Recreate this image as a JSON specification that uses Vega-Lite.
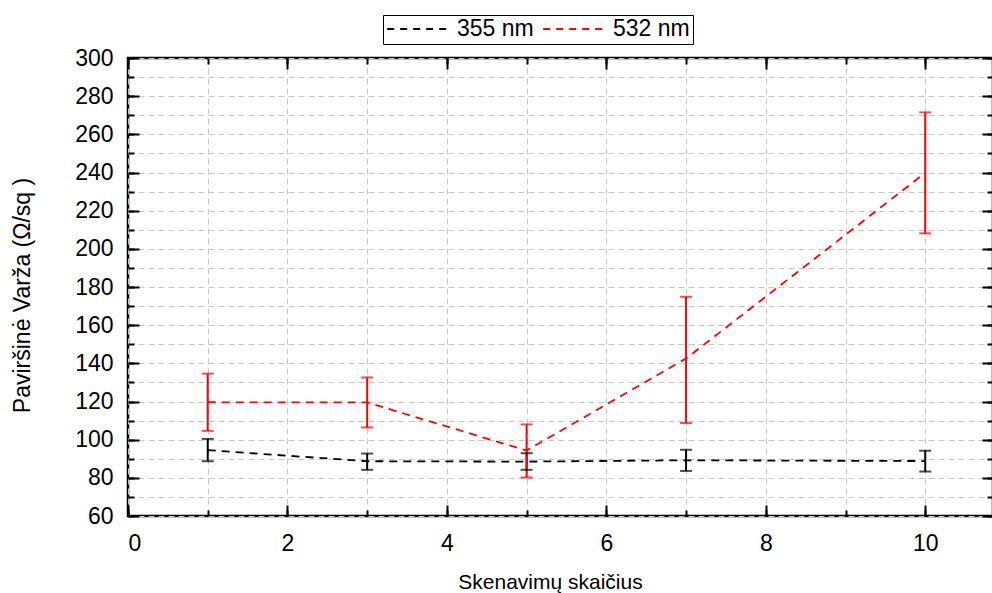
{
  "$schema": "https://vega.github.io/schema/vega-lite/v6.json",
  "width": 865,
  "height": 458,
  "autosize": {"type": "none"},
  "padding": {"left": 128, "top": 58, "right": 0, "bottom": 77},
  "background": "white",
  "config": {
    "font": "Liberation Sans",
    "view": {"stroke": "black", "strokeWidth": 2.5},
    "axis": {
      "domain": false,
      "tickColor": "black",
      "tickWidth": 2,
      "labelFont": "Liberation Sans",
      "labelFontSize": 23,
      "labelColor": "black",
      "titleFont": "Liberation Sans",
      "titleFontSize": 21,
      "titleFontWeight": "normal",
      "titleColor": "black",
      "gridColor": "#c8c8c8",
      "gridDash": [6, 4],
      "gridWidth": 1
    }
  },
  "data": {
    "values": [
      {"x": 1, "y": 94.5, "lo": 88.7, "hi": 100.4, "series": "355 nm"},
      {"x": 3, "y": 88.7, "lo": 84.2, "hi": 92.7, "series": "355 nm"},
      {"x": 5, "y": 88.5, "lo": 84.2, "hi": 92.9, "series": "355 nm"},
      {"x": 7, "y": 89.2, "lo": 83.6, "hi": 94.7, "series": "355 nm"},
      {"x": 10, "y": 88.8, "lo": 83.3, "hi": 94.2, "series": "355 nm"},
      {"x": 1, "y": 119.6, "lo": 104.6, "hi": 134.6, "series": "532 nm"},
      {"x": 3, "y": 119.5, "lo": 106.4, "hi": 132.6, "series": "532 nm"},
      {"x": 5, "y": 94.3, "lo": 80.2, "hi": 108, "series": "532 nm"},
      {"x": 7, "y": 142.5, "lo": 108.7, "hi": 174.9, "series": "532 nm"},
      {"x": 10, "y": 239.8, "lo": 208.1, "hi": 271.5, "series": "532 nm"}
    ]
  },
  "layer": [
    {
      "mark": {"type": "rule", "strokeWidth": 2},
      "encoding": {
        "x": {
          "field": "x", "type": "quantitative",
          "scale": {"domain": [0, 10.85], "nice": false, "zero": false},
          "axis": {"orient": "bottom", "values": [0,1,2,3,4,5,6,7,8,9,10], "labels": false, "tickSize": -6, "grid": true, "title": null}
        },
        "y": {
          "field": "lo", "type": "quantitative",
          "scale": {"domain": [60, 300], "nice": false, "zero": false},
          "axis": {"orient": "left", "values": [60,70,80,90,100,110,120,130,140,150,160,170,180,190,200,210,220,230,240,250,260,270,280,290,300], "labels": false, "tickSize": -6, "grid": true, "title": null}
        },
        "y2": {"field": "hi"},
        "color": {"field": "series", "type": "nominal", "scale": {"domain": ["355 nm", "532 nm"], "range": ["black", "#ff0000"]}, "legend": null}
      }
    },
    {
      "mark": {"type": "line", "strokeWidth": 1.8, "strokeDash": [8, 6]},
      "encoding": {
        "x": {
          "field": "x", "type": "quantitative",
          "axis": {"orient": "bottom", "values": [0,2,4,6,8,10], "tickSize": -11, "labelPadding": 27, "title": "Skenavimų skaičius", "titlePadding": 16, "titleX": 422, "titleAlign": "center"}
        },
        "y": {
          "field": "y", "type": "quantitative",
          "axis": {"orient": "left", "values": [60,80,100,120,140,160,180,200,220,240,260,280,300], "tickSize": -11, "labelPadding": 26, "title": "Paviršinė Varža (Ω/sq )", "titleFontSize": 23, "titlePadding": 40, "titleY": 237}
        },
        "color": {
          "field": "series", "type": "nominal",
          "legend": {
            "orient": "none", "legendX": 255, "legendY": -43,
            "direction": "horizontal", "title": null,
            "strokeColor": "black", "fillColor": "white", "padding": 3,
            "clipHeight": 22,
            "symbolType": "stroke", "symbolSize": 3800, "symbolStrokeWidth": 1.8, "symbolDash": [7, 6],
            "labelFont": "Liberation Sans", "labelFontSize": 23, "labelColor": "black",
            "labelOffset": 7, "columnPadding": 8
          }
        }
      }
    },
    {
      "mark": {"type": "tick", "orient": "horizontal", "size": 12, "thickness": 2},
      "encoding": {
        "x": {
          "field": "x", "type": "quantitative",
          "axis": {"orient": "top", "values": [0,2,4,6,8,10], "labels": false, "tickSize": -11, "title": null}
        },
        "y": {
          "field": "hi", "type": "quantitative",
          "axis": {"orient": "right", "values": [60,80,100,120,140,160,180,200,220,240,260,280,300], "labels": false, "tickSize": -11, "title": null}
        },
        "color": {"field": "series", "type": "nominal", "legend": null}
      }
    },
    {
      "mark": {"type": "tick", "orient": "horizontal", "size": 12, "thickness": 2},
      "encoding": {
        "x": {
          "field": "x", "type": "quantitative",
          "axis": {"orient": "top", "values": [0,1,2,3,4,5,6,7,8,9,10], "labels": false, "tickSize": -6, "title": null}
        },
        "y": {
          "field": "lo", "type": "quantitative",
          "axis": {"orient": "right", "values": [60,70,80,90,100,110,120,130,140,150,160,170,180,190,200,210,220,230,240,250,260,270,280,290,300], "labels": false, "tickSize": -6, "title": null}
        },
        "color": {"field": "series", "type": "nominal", "legend": null}
      }
    }
  ],
  "resolve": {"axis": {"x": "independent", "y": "independent"}, "legend": {"color": "independent"}}
}
